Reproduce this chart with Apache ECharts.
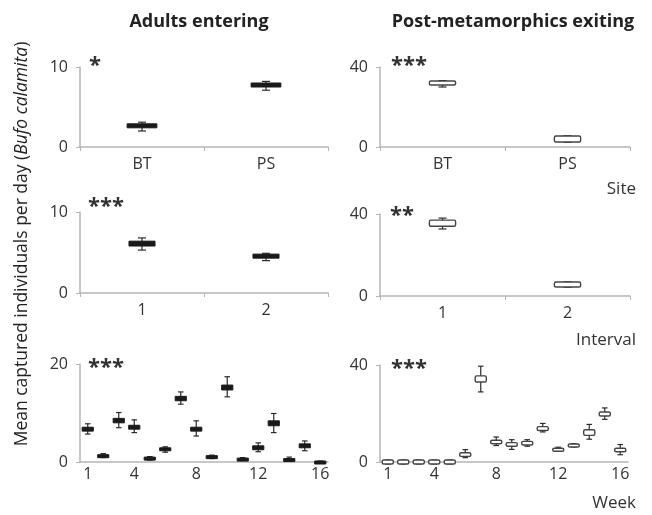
<!DOCTYPE html>
<html>
<head>
<meta charset="utf-8">
<script src="https://cdn.jsdelivr.net/npm/echarts@6/dist/echarts.min.js"></script>
<style>
  html, body { margin: 0; padding: 0; background: #fff; }
  #chart { width: 652px; height: 515px; }
</style>
</head>
<body>
<div id="chart"></div>
<script>
// each box: [low whisker, q1, q3, high whisker]
const siteCats = ['BT', 'PS']
const intervalCats = ['1', '2']
const weekCats = ['1','2','3','4','5','6','7','8','9','10','11','12','13','14','15','16']
const weekTicks = ['1', '4', '8', '12', '16']

const adultsSite = [[2.0, 2.4, 2.9, 3.1], [7.1, 7.5, 8.0, 8.2]]
const postSite = [[30.0, 31.0, 33.0, 33.2], [2.4, 2.5, 5.5, 5.6]]
const adultsInterval = [[5.3, 5.8, 6.4, 6.8], [4.0, 4.3, 4.8, 4.9]]
const postInterval = [[32.7, 34.0, 37.0, 38.0], [4.3, 4.4, 6.8, 6.9]]
const adultsWeek = [
  [5.7, 6.3, 7.1, 7.8], [0.9, 1.0, 1.5, 1.7], [7.0, 8.0, 8.9, 10.1], [6.0, 6.7, 7.5, 8.6],
  [0.4, 0.5, 1.0, 1.1], [2.0, 2.3, 2.9, 3.1], [11.8, 12.5, 13.4, 14.3], [5.3, 6.3, 7.1, 8.4],
  [0.7, 0.8, 1.3, 1.4], [13.3, 14.7, 15.7, 17.4], [0.3, 0.4, 0.8, 0.9], [2.1, 2.5, 3.3, 3.9],
  [6.0, 7.4, 8.4, 9.9], [0.2, 0.3, 0.7, 1.0], [2.3, 2.9, 3.7, 4.3], [-0.2, -0.2, 0.2, 0.2]
]
const postWeek = [
  [-0.8, -0.8, 0.8, 0.8], [-0.8, -0.8, 0.8, 0.8], [-0.8, -0.8, 0.8, 0.8], [-0.8, -0.8, 0.8, 0.8],
  [-0.8, -0.8, 0.8, 0.8], [1.8, 2.3, 3.8, 5.1], [28.9, 33.0, 35.5, 39.5], [6.8, 7.5, 9.0, 10.3],
  [5.2, 6.5, 8.0, 9.2], [6.5, 7.0, 8.5, 9.2], [12.4, 13.0, 14.6, 15.9], [4.5, 4.8, 5.7, 6.1],
  [6.2, 6.4, 7.4, 7.6], [9.4, 11.0, 13.3, 15.5], [17.6, 19.0, 20.6, 22.3], [3.0, 4.2, 5.7, 7.2]
]

const font = '"Open Sans", "Liberation Sans", sans-serif'
const grey = '#b5b5b5'

// 面板位置
const panels = [
  { left: 80, top: 67, width: 248, height: 80, cats: siteCats, data: adultsSite, max: 10, dark: true, boxW: 0.24, ticks: true },
  { left: 380, top: 67, width: 250, height: 80, cats: siteCats, data: postSite, max: 40, dark: false, boxW: 0.21, ticks: true },
  { left: 80, top: 212, width: 248, height: 81, cats: intervalCats, data: adultsInterval, max: 10, dark: true, boxW: 0.21, ticks: true },
  { left: 380, top: 214, width: 250, height: 82, cats: intervalCats, data: postInterval, max: 40, dark: false, boxW: 0.21, ticks: true },
  { left: 80, top: 364, width: 248, height: 98, cats: weekCats, data: adultsWeek, max: 20, dark: true, boxW: 0.72, ticks: false },
  { left: 380, top: 365, width: 248, height: 97, cats: weekCats, data: postWeek, max: 40, dark: false, boxW: 0.72, ticks: false }
]

function renderBox(p) {
  return function (params, api) {
    const x = api.value(0)
    const lo = api.coord([x, api.value(1)])
    const q1 = api.coord([x, api.value(2)])
    const q3 = api.coord([x, api.value(3)])
    const hi = api.coord([x, api.value(4)])
    const band = api.size([1, 0])[0]
    const w = band * p.boxW
    const cap = Math.max(5, Math.min(8, w * 0.5))
    const stroke = '#2b2b2b'
    const fill = p.dark ? '#1a1a1a' : '#ffffff'
    return {
      type: 'group',
      children: [
        { type: 'line', shape: { x1: lo[0], y1: lo[1], x2: hi[0], y2: hi[1] }, style: { stroke: stroke, lineWidth: 1.2 } },
        { type: 'line', shape: { x1: lo[0] - cap / 2, y1: lo[1], x2: lo[0] + cap / 2, y2: lo[1] }, style: { stroke: stroke, lineWidth: 1.2 } },
        { type: 'line', shape: { x1: hi[0] - cap / 2, y1: hi[1], x2: hi[0] + cap / 2, y2: hi[1] }, style: { stroke: stroke, lineWidth: 1.2 } },
        {
          type: 'rect',
          shape: { x: q3[0] - w / 2, y: q3[1], width: w, height: Math.max(q1[1] - q3[1], 3), r: p.dark ? 0 : 1.5 },
          style: { fill: fill, stroke: p.dark ? '#1a1a1a' : '#444', lineWidth: p.dark ? 1 : 1.4 }
        }
      ]
    }
  }
}

const grid = [], xAxis = [], yAxis = [], series = []
panels.forEach((p, i) => {
  grid.push({ left: p.left, top: p.top, width: p.width, height: p.height })
  xAxis.push({
    type: 'category', gridIndex: i, data: p.cats, boundaryGap: true,
    axisLine: { lineStyle: { color: grey, width: 1.5 } },
    axisTick: { show: p.ticks, length: 4, lineStyle: { color: grey } },
    axisLabel: {
      color: '#333', fontSize: 16, fontFamily: font, margin: p.ticks ? 9 : 4,
      interval: p.cats === weekCats ? (idx, v) => weekTicks.includes(v) : 0
    }
  })
  yAxis.push({
    type: 'value', gridIndex: i, min: 0, max: p.max, interval: p.max,
    splitLine: { show: false },
    axisLine: { show: true, lineStyle: { color: grey, width: 1.5 } },
    axisTick: { show: true, length: 4, lineStyle: { color: grey } },
    axisLabel: { color: '#333', fontSize: 16, fontFamily: font, margin: 12 }
  })
  series.push({
    type: 'custom', xAxisIndex: i, yAxisIndex: i,
    renderItem: renderBox(p),
    encode: { x: 0, y: [1, 2, 3, 4] },
    data: p.data.map((d, k) => [k].concat(d))
  })
})

function txt(x, y, text, opts) {
  return {
    type: 'text', x: x, y: y,
    style: Object.assign({ text: text, fill: '#333', font: '17px ' + font, textAlign: 'left', textVerticalAlign: 'middle' }, opts || {})
  }
}

const chart = echarts.init(document.getElementById('chart'), null, { renderer: 'canvas' })
chart.setOption({
  animation: false,
  backgroundColor: '#fff',
  grid: grid,
  xAxis: xAxis,
  yAxis: yAxis,
  series: series,
  graphic: [
    txt(199, 22, 'Adults entering', { font: 'bold 18px ' + font, textAlign: 'center', fill: '#222' }),
    txt(513, 22, 'Post-metamorphics exiting', { font: 'bold 18px ' + font, textAlign: 'center', fill: '#222' }),
    txt(636, 189, 'Site', { textAlign: 'right' }),
    txt(636, 340, 'Interval', { textAlign: 'right' }),
    txt(636, 503, 'Week', { textAlign: 'right' }),
    txt(89, 66, '*', { font: 'bold 22px ' + font }),
    txt(391, 66, '***', { font: 'bold 22px ' + font }),
    txt(88, 207, '***', { font: 'bold 22px ' + font }),
    txt(390, 216, '**', { font: 'bold 22px ' + font }),
    txt(88, 368, '***', { font: 'bold 22px ' + font }),
    txt(391, 369, '***', { font: 'bold 22px ' + font }),
    {
      type: 'text', x: 22, y: 244, rotation: Math.PI / 2,
      style: {
        text: '{n|Mean captured individuals per day (}{i|Bufo calamita}{n|)}',
        textAlign: 'center', textVerticalAlign: 'middle',
        rich: {
          n: { font: '17.5px ' + font, fill: '#222' },
          i: { font: 'italic 17.5px ' + font, fill: '#222' }
        }
      }
    }
  ]
})
</script>
</body>
</html>
